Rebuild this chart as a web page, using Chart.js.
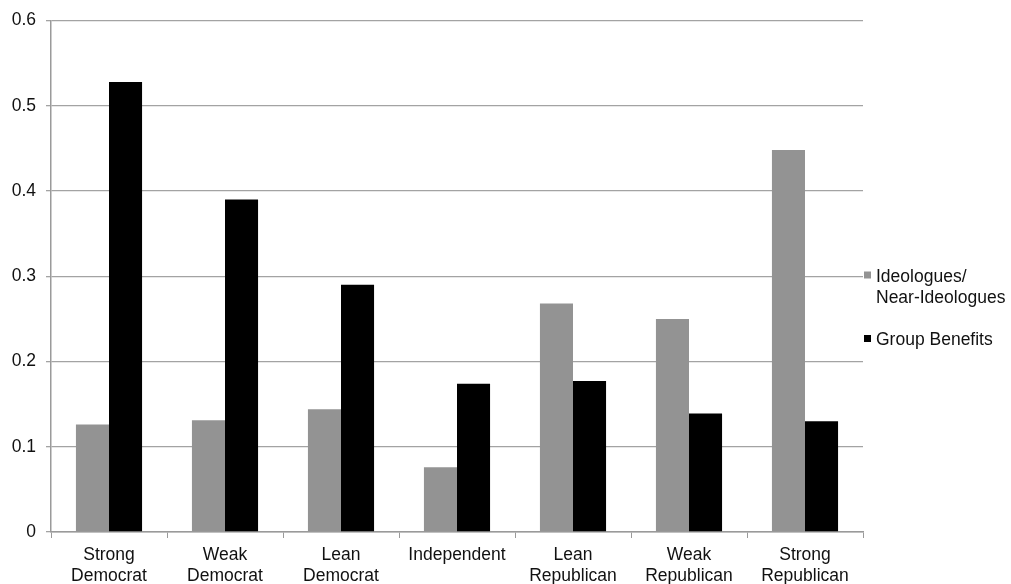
<!DOCTYPE html>
<html>
<head>
<meta charset="utf-8">
<title>Party identification groups</title>
<script src="https://cdn.jsdelivr.net/npm/chart.js@4/dist/chart.umd.min.js"></script>
<style>
  html, body { margin: 0; padding: 0; background: #ffffff; }
  #wrap { width: 1011px; height: 584px; }
</style>
</head>
<body>
<div id="wrap"><canvas id="chart" width="1011" height="584"></canvas></div>
<script>
// Party identification categories (two-line axis labels)
const categories = [
  ['Strong', 'Democrat'],
  ['Weak', 'Democrat'],
  ['Lean', 'Democrat'],
  'Independent',
  ['Lean', 'Republican'],
  ['Weak', 'Republican'],
  ['Strong', 'Republican']
];

// Series names, split into the lines shown in the key
const ideologuesName = ['Ideologues/', 'Near-Ideologues'];
const groupBenefitsName = ['Group Benefits'];

// Proportion in each category
const ideologues = [0.126, 0.131, 0.144, 0.076, 0.268, 0.250, 0.448];
const groupBenefits = [0.528, 0.390, 0.290, 0.174, 0.177, 0.139, 0.130];

// Value axis ticks
const yTicks = [0, 0.1, 0.2, 0.3, 0.4, 0.5, 0.6];
const yTickLabels = ['0', '0.1', '0.2', '0.3', '0.4', '0.5', '0.6'];

const FONT = '"Liberation Sans", Arial, Helvetica, sans-serif';
const TEXT = '#111111';
const FONT_SIZE = 17.5;

// Key drawn beside the plot, with wrapped series names
const sideKey = {
  id: 'sideKey',
  afterDraw(chart) {
    const ctx = chart.ctx;
    const items = [
      { lines: ideologuesName, color: chart.data.datasets[0].backgroundColor, y: 277, sq: 275 },
      { lines: groupBenefitsName, color: chart.data.datasets[1].backgroundColor, y: 340, sq: 338.5 }
    ];
    ctx.save();
    ctx.font = FONT_SIZE + 'px ' + FONT;
    ctx.textBaseline = 'middle';
    ctx.textAlign = 'left';
    items.forEach(it => {
      ctx.fillStyle = it.color;
      ctx.fillRect(chart.chartArea.right + 1, it.sq - 3.5, 7, 7);
      ctx.fillStyle = TEXT;
      it.lines.forEach((ln, i) => {
        ctx.fillText(ln, chart.chartArea.right + 13, it.y + i * 21);
      });
    });
    ctx.restore();
  }
};

new Chart(document.getElementById('chart'), {
  type: 'bar',
  data: {
    labels: categories,
    datasets: [
      {
        label: ideologuesName.join(' '),
        data: ideologues,
        backgroundColor: '#939393',
        categoryPercentage: 0.57,
        barPercentage: 1.0
      },
      {
        label: groupBenefitsName.join(' '),
        data: groupBenefits,
        backgroundColor: '#000000',
        categoryPercentage: 0.57,
        barPercentage: 1.0
      }
    ]
  },
  options: {
    responsive: false,
    animation: false,
    layout: { padding: { left: 0, right: 148, top: 18, bottom: 0 } },
    plugins: {
      legend: { display: false },
      tooltip: { enabled: false }
    },
    scales: {
      x: {
        offset: true,
        grid: {
          display: true,
          offset: true,
          drawOnChartArea: false,
          drawTicks: true,
          tickLength: 6,
          color: '#9a9a9a'
        },
        border: { display: true, color: '#9a9a9a', width: 1.5 },
        ticks: {
          color: TEXT,
          font: { family: FONT, size: FONT_SIZE, lineHeight: 1.2 },
          padding: 7,
          maxRotation: 0,
          autoSkip: false
        },
        afterFit(scale) { scale.height = 52; }
      },
      y: {
        min: 0,
        max: 0.6,
        afterBuildTicks(scale) {
          scale.ticks = yTicks.map(v => ({ value: v }));
        },
        grid: {
          color: '#a3a3a3',
          lineWidth: 1.3,
          drawTicks: true,
          tickLength: 5
        },
        border: { display: true, color: '#9a9a9a', width: 1.5 },
        ticks: {
          color: TEXT,
          font: { family: FONT, size: FONT_SIZE },
          padding: 10,
          callback(value) {
            const i = yTicks.findIndex(t => Math.abs(t - value) < 1e-9);
            return i >= 0 ? yTickLabels[i] : '';
          }
        },
        afterFit(scale) { scale.width = 51; }
      }
    }
  },
  plugins: [sideKey]
});
</script>
</body>
</html>
